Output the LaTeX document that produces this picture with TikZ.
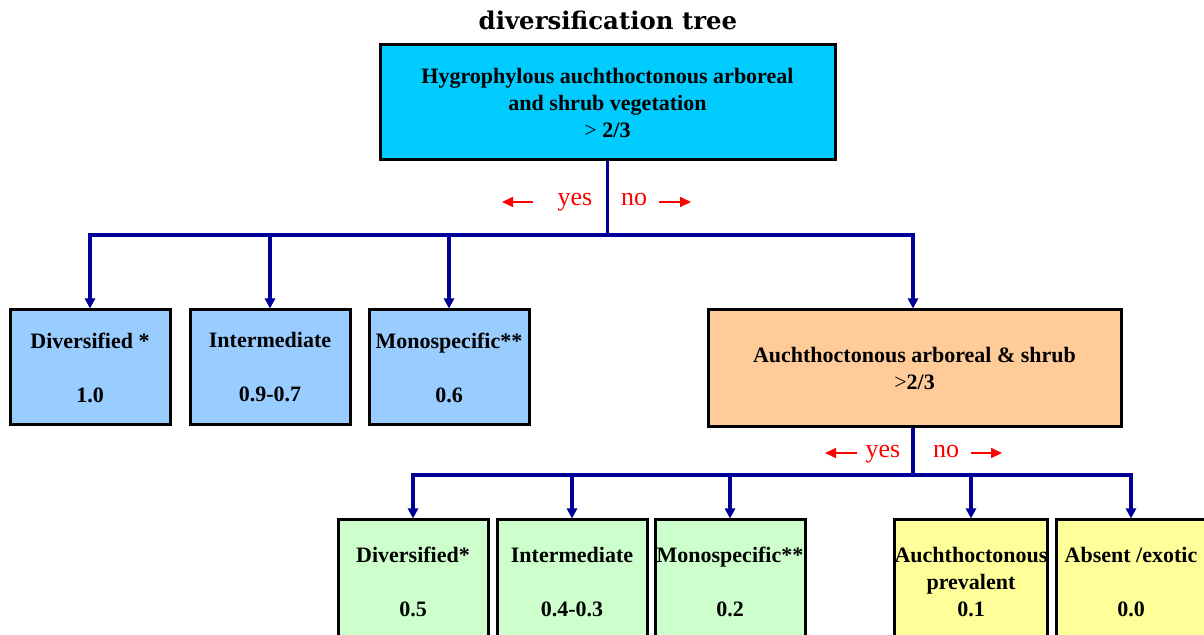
\documentclass[tikz,border=0pt]{standalone}
\usepackage{fontspec}
\setmainfont{Liberation Serif}
\newfontfamily\titlefont{DejaVu Serif}
\usetikzlibrary{arrows.meta}

\definecolor{linkblue}{RGB}{0,0,153}
\definecolor{rootfill}{RGB}{0,204,255}
\definecolor{leafblue}{RGB}{153,204,255}
\definecolor{midfill}{RGB}{255,204,153}
\definecolor{leafgreen}{RGB}{204,255,204}
\definecolor{leafyellow}{RGB}{255,255,153}

\tikzset{
  box/.style={draw=black, line width=1.5pt, align=center, inner sep=0pt,
    font=\fontsize{11}{13.5}\selectfont\bfseries},
  leaf/.style={box, minimum width=80pt, minimum height=57.5pt},
  lowleaf/.style={box, minimum width=75pt, minimum height=62pt},
  trunk/.style={linkblue, line width=1.6pt},
  branch/.style={trunk, -{Triangle[length=5pt,width=5pt]}},
  answer/.style={red, anchor=base, font=\fontsize{13}{15}\selectfont},
  hint/.style={red, line width=0.8pt, -{Triangle[length=5.5pt,width=5pt]}}
}

\begin{document}
\begin{tikzpicture}[x=0.5pt, y=-0.5pt]
  \useasboundingbox (0,0) rectangle (1204,635);
  \node[font=\titlefont\bfseries\fontsize{12.2}{14}\selectfont] (title) at (608,20) {diversification tree};

  % first question
  \node[box, fill=rootfill, minimum width=227.5pt, minimum height=57.5pt] (hygro) at (607.5,102.5)
    {Hygrophylous auchthoctonous arboreal\\and shrub vegetation\\\textmd{>}~2/3};

  \node[leaf, fill=leafblue] (diversA) at (90,367.5) {Diversified *\\[13.5pt]1.0};
  \node[leaf, fill=leafblue] (interA) at (270,367.5) {Intermediate\\[13.5pt]0.9-0.7};
  \node[leaf, fill=leafblue] (monoA) at (449,367.5) {Monospecific**\\[13.5pt]0.6};

  % second question
  \node[box, fill=midfill, minimum width=206.5pt, minimum height=58.5pt] (auchto) at (914.5,368.5)
    {Auchthoctonous arboreal \& shrub\\\textmd{>}2/3};

  \node[lowleaf, fill=leafgreen] (diversB) at (413,582) {Diversified*\\[13.5pt]0.5};
  \node[lowleaf, fill=leafgreen] (interB) at (572,582) {Intermediate\\[13.5pt]0.4-0.3};
  \node[lowleaf, fill=leafgreen] (monoB) at (730,582) {Monospecific**\\[13.5pt]0.2};
  \node[lowleaf, fill=leafyellow] (prevB) at (971,582) {Auchthoctonous\\prevalent\\0.1};
  \node[lowleaf, fill=leafyellow] (absentB) at (1131,582) {Absent /exotic\\[13.5pt]0.0};

  % connectors
  \coordinate (forkA) at (hygro.south |- 0,235);
  \coordinate (forkB) at (913,475);
  \draw[trunk] (hygro.south) -- (forkA);
  \foreach \n in {diversA, interA, monoA}
    \draw[branch] (forkA) -| (\n.north);
  \draw[branch] (forkA) -| (forkB |- auchto.north);
  \draw[trunk] (forkB |- auchto.south) -- (forkB);
  \foreach \n in {diversB, interB, monoB, prevB, absentB}
    \draw[branch] (forkB) -| (\n.north);

  % yes / no
  \node[answer] (yesA) at (575,206) {yes};
  \node[answer] (noA) at (634,206) {no};
  \node[answer] (yesB) at (883,458) {yes};
  \node[answer] (noB) at (946,458) {no};
  \coordinate (yesAtail) at (533,202);
  \coordinate (yesAtip) at (502,202);
  \coordinate (noAtail) at (659,202);
  \coordinate (noAtip) at (691,202);
  \coordinate (yesBtail) at (857,453);
  \coordinate (yesBtip) at (825,453);
  \coordinate (noBtail) at (971,453);
  \coordinate (noBtip) at (1002,453);
  \foreach \a in {yesA, noA, yesB, noB}
    \draw[hint] (\a tail) -- (\a tip);
\end{tikzpicture}
\end{document}
